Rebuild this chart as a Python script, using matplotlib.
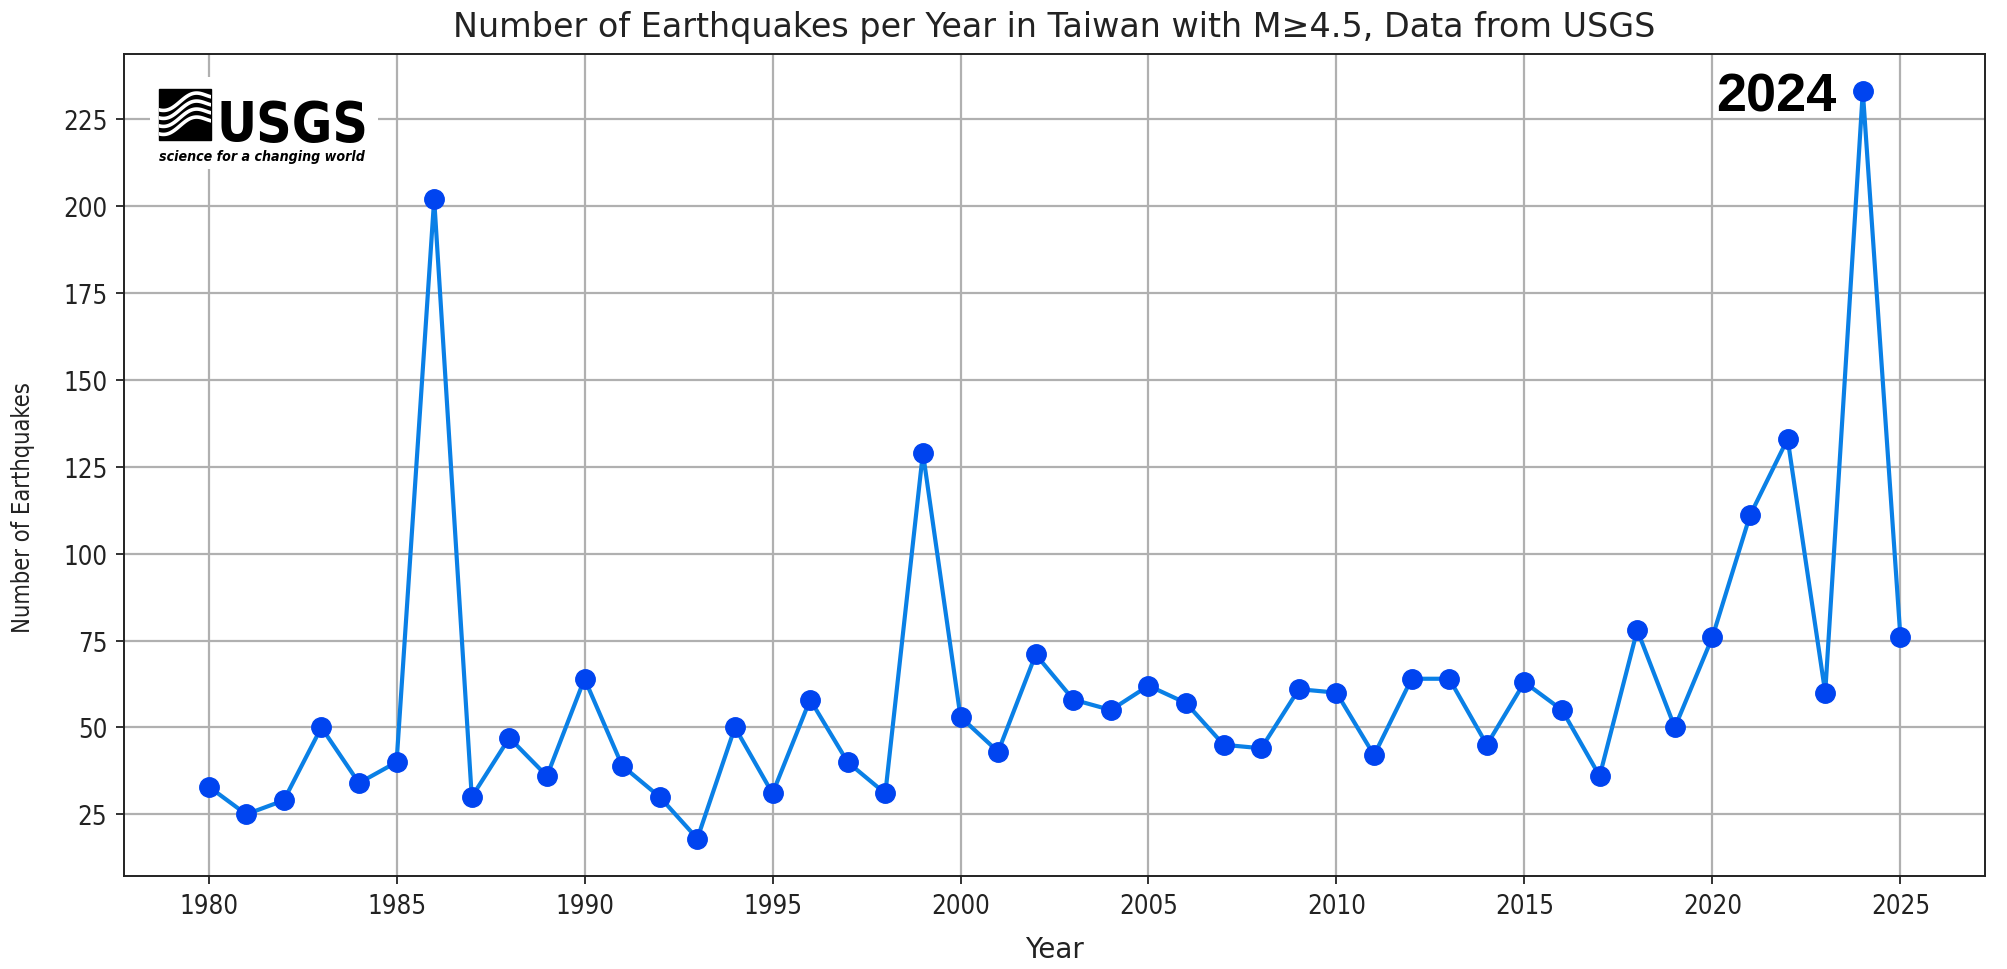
import numpy as np
import matplotlib.pyplot as plt
from matplotlib import font_manager as fm
from matplotlib.patches import Rectangle

# yearly counts of M>=4.5 earthquakes in Taiwan
years = list(range(1980, 2026))
counts = [33, 25, 29, 50, 34, 40, 202, 30, 47, 36,
          64, 39, 30, 18, 50, 31, 58, 40, 31, 129,
          53, 43, 71, 58, 55, 62, 57, 45, 44, 61,
          60, 42, 64, 64, 45, 63, 55, 36, 78, 50,
          76, 111, 133, 60, 233, 76]
xticks = [1980, 1985, 1990, 1995, 2000, 2005, 2010, 2015, 2020, 2025]
yticks = [25, 50, 75, 100, 125, 150, 175, 200, 225]
highlight = 2024


def narrow_font(bold=True, italic=False):
    # look for a condensed / narrow face, fall back to Liberation Sans
    for f in fm.fontManager.ttflist:
        cond = f.stretch in ('condensed', 'semi-condensed', 'extra-condensed') \
            or 'Narrow' in f.name or 'Condensed' in f.name
        is_bold = f.weight in ('bold', 700, 800, 900, 'heavy')
        ital = f.style in ('italic', 'oblique')
        if cond and is_bold == bold and ital == italic:
            return fm.FontProperties(fname=f.fname)
    return fm.FontProperties(family='Liberation Sans',
                             weight='bold' if bold else 'normal',
                             style='italic' if italic else 'normal')


def fit_width(txt, width_px):
    fig.canvas.draw()
    w = txt.get_window_extent().width
    txt.set_fontsize(txt.get_fontsize() * width_px / w)


fig = plt.figure(figsize=(20.08, 9.7), dpi=100)
ax = fig.add_axes([124 / 2008, 1 - 877 / 970, 1861 / 2008, 822 / 970])

ax.plot(years, counts, color='#0a80e6', lw=3, marker='o', ms=14,
        mfc='#0044f0', mec='#0044f0', zorder=3)

ax.set_xticks(xticks)
ax.set_yticks(yticks)
ax.tick_params(length=6, width=1.3, colors='#222222', pad=6)
cond = narrow_font(bold=False)
for lab in ax.get_xticklabels() + ax.get_yticklabels():
    lab.set_fontproperties(cond)
    lab.set_fontsize(18.5)
ax.grid(True, color='#b0b0b0', lw=1.6)
for s in ax.spines.values():
    s.set_linewidth(1.4)
    s.set_color('#222222')

ax.set_title('Number of Earthquakes per Year in Taiwan with M≥4.5, Data from USGS',
             fontsize=24, pad=13, color='#222222')
ax.set_xlabel('Year', fontsize=20, color='#222222')
ax.xaxis.set_label_coords(0.5, -0.072)
ax.set_ylabel('Number of Earthquakes', color='#222222')
ax.yaxis.label.set_fontproperties(cond)
ax.yaxis.label.set_fontsize(17)
ax.yaxis.set_label_coords(-0.048, 0.449)

# big year label next to the record point
hv = counts[years.index(highlight)]
ax.text(highlight - 0.7, hv - 5.5, str(highlight), ha='right', va='baseline',
        fontsize=39, fontweight='bold', family=['Liberation Sans', 'DejaVu Sans'],
        color='black', zorder=4)

# USGS logo in the top-left corner
lax = fig.add_axes([150 / 2008, 1 - 170 / 970, 228 / 2008, 92 / 970], zorder=5)
lax.set_xlim(0, 228)
lax.set_ylim(92, 0)
lax.set_xticks([])
lax.set_yticks([])
for s in lax.spines.values():
    s.set_visible(False)
lax.set_facecolor('white')

box = Rectangle((9, 12), 52, 51, color='black')
lax.add_patch(box)
wx = np.linspace(9, 61, 120)
for base in [30, 38, 46, 54]:
    wy = base + 5 * np.sin((wx - 9) / 52 * 2 * np.pi + 0.6) - (wx - 9) * 0.25
    ln, = lax.plot(wx, wy, color='white', lw=2.6)
    ln.set_clip_path(box)

logo_txt = lax.text(67, 63, 'USGS', fontproperties=narrow_font(),
                    va='baseline', ha='left', color='black')
logo_txt.set_fontsize(40)
fit_width(logo_txt, 152)
tag_txt = lax.text(9, 83, 'science for a changing world',
                   fontproperties=narrow_font(italic=True),
                   va='baseline', ha='left', color='black')
tag_txt.set_fontsize(11)
fit_width(tag_txt, 205)

fig.savefig('out.png', dpi=100)
